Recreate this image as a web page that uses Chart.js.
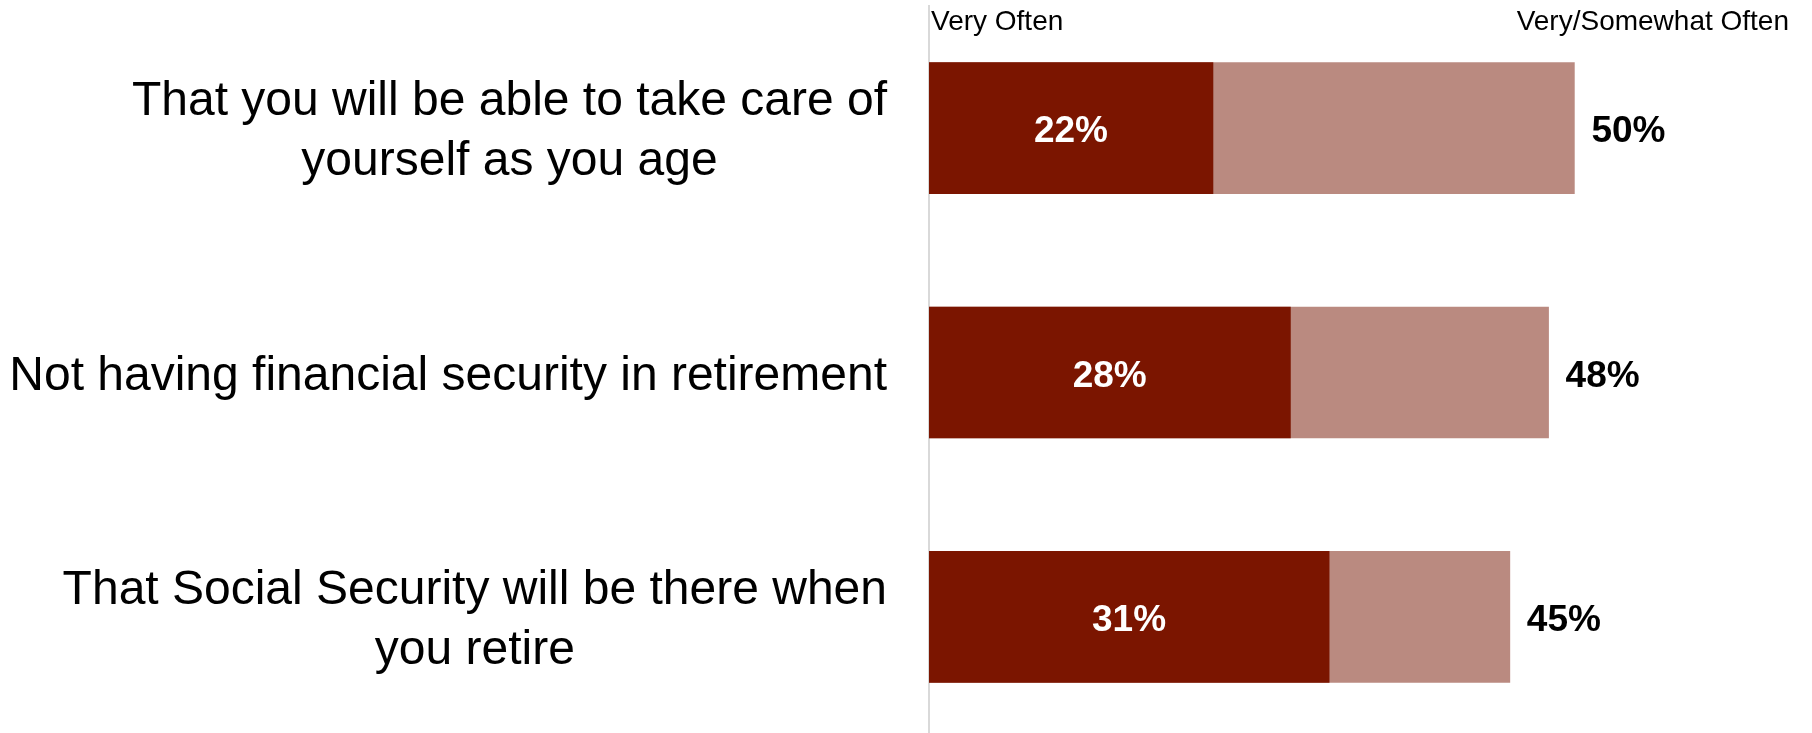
<!DOCTYPE html>
<html>
<head>
<meta charset="utf-8">
<script src="https://cdn.jsdelivr.net/npm/chart.js@4/dist/chart.umd.min.js"></script>
<style>
  html, body { margin: 0; padding: 0; background: #fff; overflow: hidden; }
  canvas { display: block; }
</style>
</head>
<body>
<canvas id="myChart" width="1812" height="739"></canvas>
<script>
const categories = [
    ['That you will be able to take care of', 'yourself as you age'],
    ['Not having financial security in retirement'],
    ['That Social Security will be there when', 'you retire'],
];
const veryOften = [22, 28, 31];
const veryOrSomewhatOften = [50, 48, 45];
const seriesNames = ['Very Often', 'Very/Somewhat Often'];

const FONT = '"Liberation Sans", Arial, sans-serif';

// category labels: block right aligned, lines centred inside the block
const categoryLabels = {
    id: 'categoryLabels',
    afterDraw(chart) {
        const c = chart.ctx;
        const yScale = chart.scales.y;
        const right = chart.chartArea.left - 42;
        c.save();
        c.font = '48px ' + FONT;
        c.fillStyle = '#000';
        c.textAlign = 'center';
        c.textBaseline = 'middle';
        chart.data.labels.forEach((lines, i) => {
            const widest = Math.max(...lines.map(l => c.measureText(l).width));
            const cx = right - widest / 2;
            const cy = yScale.getPixelForTick(i) + 4;
            const lh = 60;
            lines.forEach((l, j) => {
                c.fillText(l, cx, cy + (j - (lines.length - 1) / 2) * lh);
            });
        });
        c.restore();
    }
};

// value labels + series headers
const valueLabels = {
    id: 'valueLabels',
    afterDatasetsDraw(chart) {
        const c = chart.ctx;
        const area = chart.chartArea;
        c.save();
        c.textBaseline = 'middle';
        c.font = 'bold 37px ' + FONT;
        chart.getDatasetMeta(0).data.forEach((bar, i) => {
            c.fillStyle = '#fff';
            c.textAlign = 'center';
            c.fillText(veryOften[i] + '%', (bar.base + bar.x) / 2, bar.y + 4);
        });
        chart.getDatasetMeta(1).data.forEach((bar, i) => {
            c.fillStyle = '#000';
            c.textAlign = 'left';
            c.fillText(veryOrSomewhatOften[i] + '%', bar.x + 17, bar.y + 4);
        });
        c.font = '28px ' + FONT;
        c.fillStyle = '#000';
        c.textAlign = 'left';
        c.fillText(seriesNames[0], area.left + 2, 22);
        c.textAlign = 'right';
        c.fillText(seriesNames[1], chart.width - 23, 22);
        c.restore();
    }
};

const ctx = document.getElementById('myChart');

var myChart = new Chart(ctx, {
    type: 'bar',
    data: {
        labels: categories,
        datasets: [{
            label: seriesNames[0],
            data: veryOften,
            backgroundColor: '#7b1500',
            order: 0,
        }, {
            label: seriesNames[1],
            data: veryOrSomewhatOften,
            backgroundColor: '#ba8a80',
            order: 1,
        }]
    },
    options: {
        indexAxis: 'y',
        responsive: false,
        animation: false,
        grouped: false,
        barThickness: 131,
        layout: {
            padding: { top: 6, right: 44, bottom: 0, left: 0 }
        },
        plugins: {
            legend: { display: false },
            tooltip: { enabled: false },
        },
        scales: {
            x: {
                display: false,
                min: 0,
                max: 65,
            },
            y: {
                grid: { display: false, drawTicks: false, tickLength: 0 },
                border: { display: true, color: '#d9d9d9', width: 2 },
                ticks: { display: false },
                afterFit(scale) { scale.width = 929; },
            },
        },
    },
    plugins: [categoryLabels, valueLabels],
});
</script>
</body>
</html>
